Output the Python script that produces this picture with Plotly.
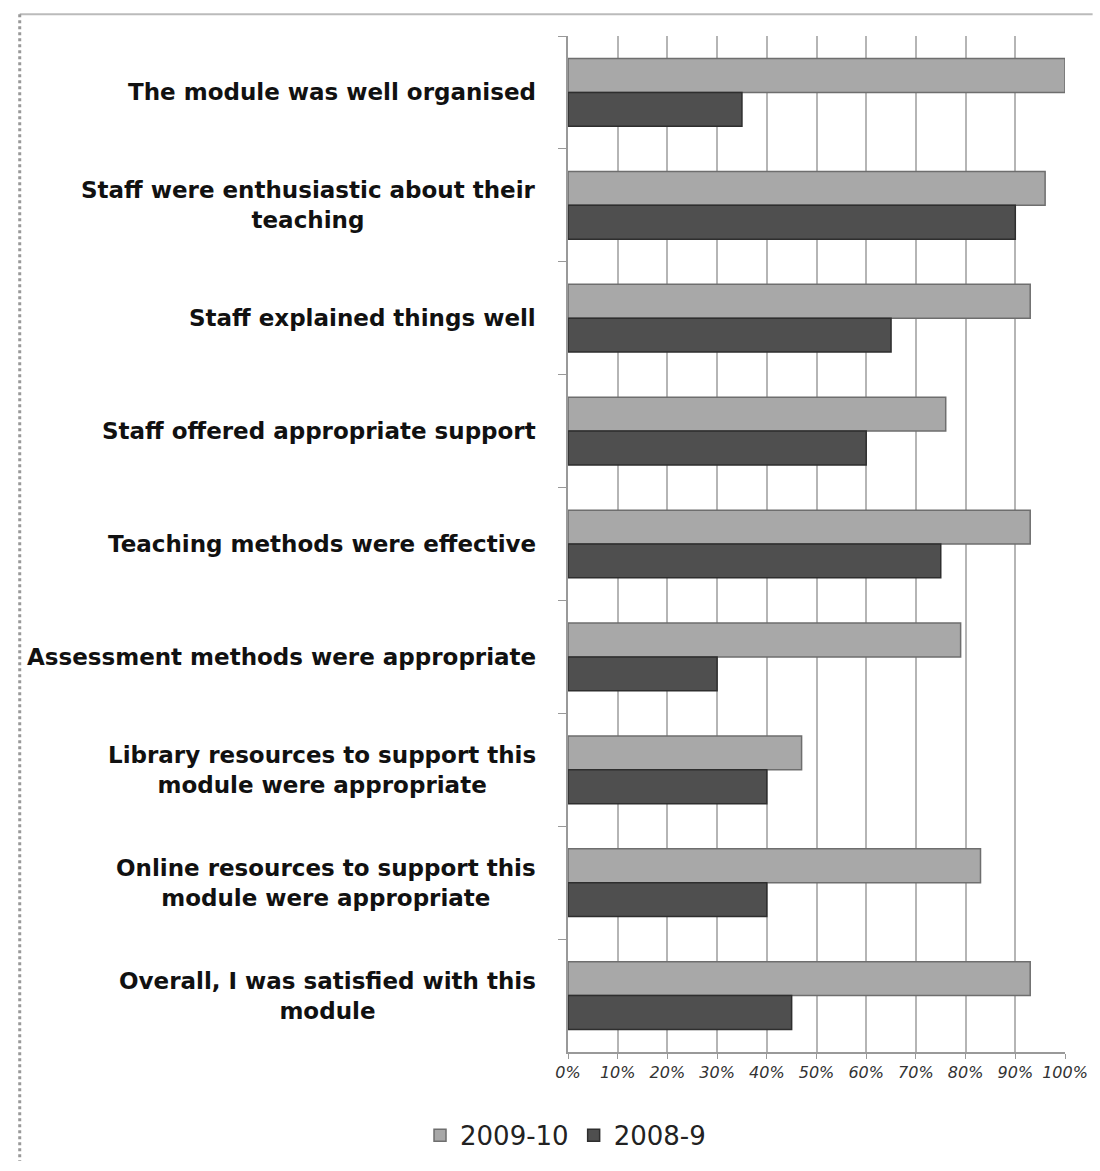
import plotly.graph_objects as go

categories = [
    "The module was well organised",
    "Staff were enthusiastic about their<br>teaching",
    "Staff explained things well",
    "Staff offered appropriate support",
    "Teaching methods were effective",
    "Assessment methods were appropriate",
    "Library resources to support this<br>module were appropriate",
    "Online resources to support this<br>module were appropriate",
    "Overall, I was satisfied with this<br>module",
]
series_2009_10 = [1.00, 0.96, 0.93, 0.76, 0.93, 0.79, 0.47, 0.83, 0.93]
series_2008_9 = [0.35, 0.90, 0.65, 0.60, 0.75, 0.30, 0.40, 0.40, 0.45]
x_ticks = [0, 0.1, 0.2, 0.3, 0.4, 0.5, 0.6, 0.7, 0.8, 0.9, 1.0]
x_tick_labels = ["0%", "10%", "20%", "30%", "40%", "50%", "60%", "70%", "80%", "90%", "100%"]

fig = go.Figure()
fig.add_trace(go.Bar(
    name="2009-10", y=categories, x=series_2009_10, orientation="h",
    marker=dict(color="#a8a8a8", line=dict(color="#6e6e6e", width=1.5)),
))
fig.add_trace(go.Bar(
    name="2008-9", y=categories, x=series_2008_9, orientation="h",
    marker=dict(color="#4f4f4f", line=dict(color="#2e2e2e", width=1.5)),
))

fig.update_layout(
    width=1100, height=1171,
    margin=dict(l=568, r=28, t=36, b=110),
    paper_bgcolor="white", plot_bgcolor="white",
    barmode="group", bargap=0.40, bargroupgap=0.0,
    font=dict(family="DejaVu Sans", color="#111"),
    showlegend=True,
    legend=dict(orientation="h", x=-0.005, xanchor="center", y=-0.082, yanchor="middle",
                font=dict(size=26, family="DejaVu Sans", color="#222"),
                itemwidth=30, traceorder="normal"),
)
fig.update_yaxes(
    type="category", autorange="reversed",
    showline=True, linecolor="#999", linewidth=1.5,
    ticks="outside", ticklen=8, tickcolor="#999", tickson="boundaries",
    showgrid=False, showticklabels=False,
)
fig.update_xaxes(
    range=[0, 1.0], tickvals=x_ticks, ticktext=x_tick_labels,
    showgrid=True, gridcolor="#b5b5b5", gridwidth=2,
    showline=True, linecolor="#999", linewidth=1.5,
    ticks="outside", ticklen=5, tickcolor="#999",
    tickfont=dict(family="DejaVu Sans", size=16, color="#333", style="italic"),
    zeroline=False,
)

# category labels: right-aligned block, lines centred within the block
for cat in categories:
    fig.add_annotation(
        x=0, xref="paper", y=cat, yref="y", xanchor="right", yanchor="middle",
        xshift=-30, text=cat, showarrow=False, align="center",
        font=dict(family="DejaVu Sans", size=23, color="#111", weight="bold"),
    )

# chart frame (top line and dotted left border)
fig.add_shape(type="line", xref="paper", yref="paper",
              x0=-556/504, x1=28/504 + 1, y0=1 + 22/1025, y1=1 + 22/1025,
              line=dict(color="#bbbbbb", width=2))
fig.add_shape(type="line", xref="paper", yref="paper",
              x0=-556/504, x1=-556/504, y0=1 + 22/1025, y1=-110/1025,
              line=dict(color="#999999", width=3, dash="dot"))

fig.write_html("out.html")
